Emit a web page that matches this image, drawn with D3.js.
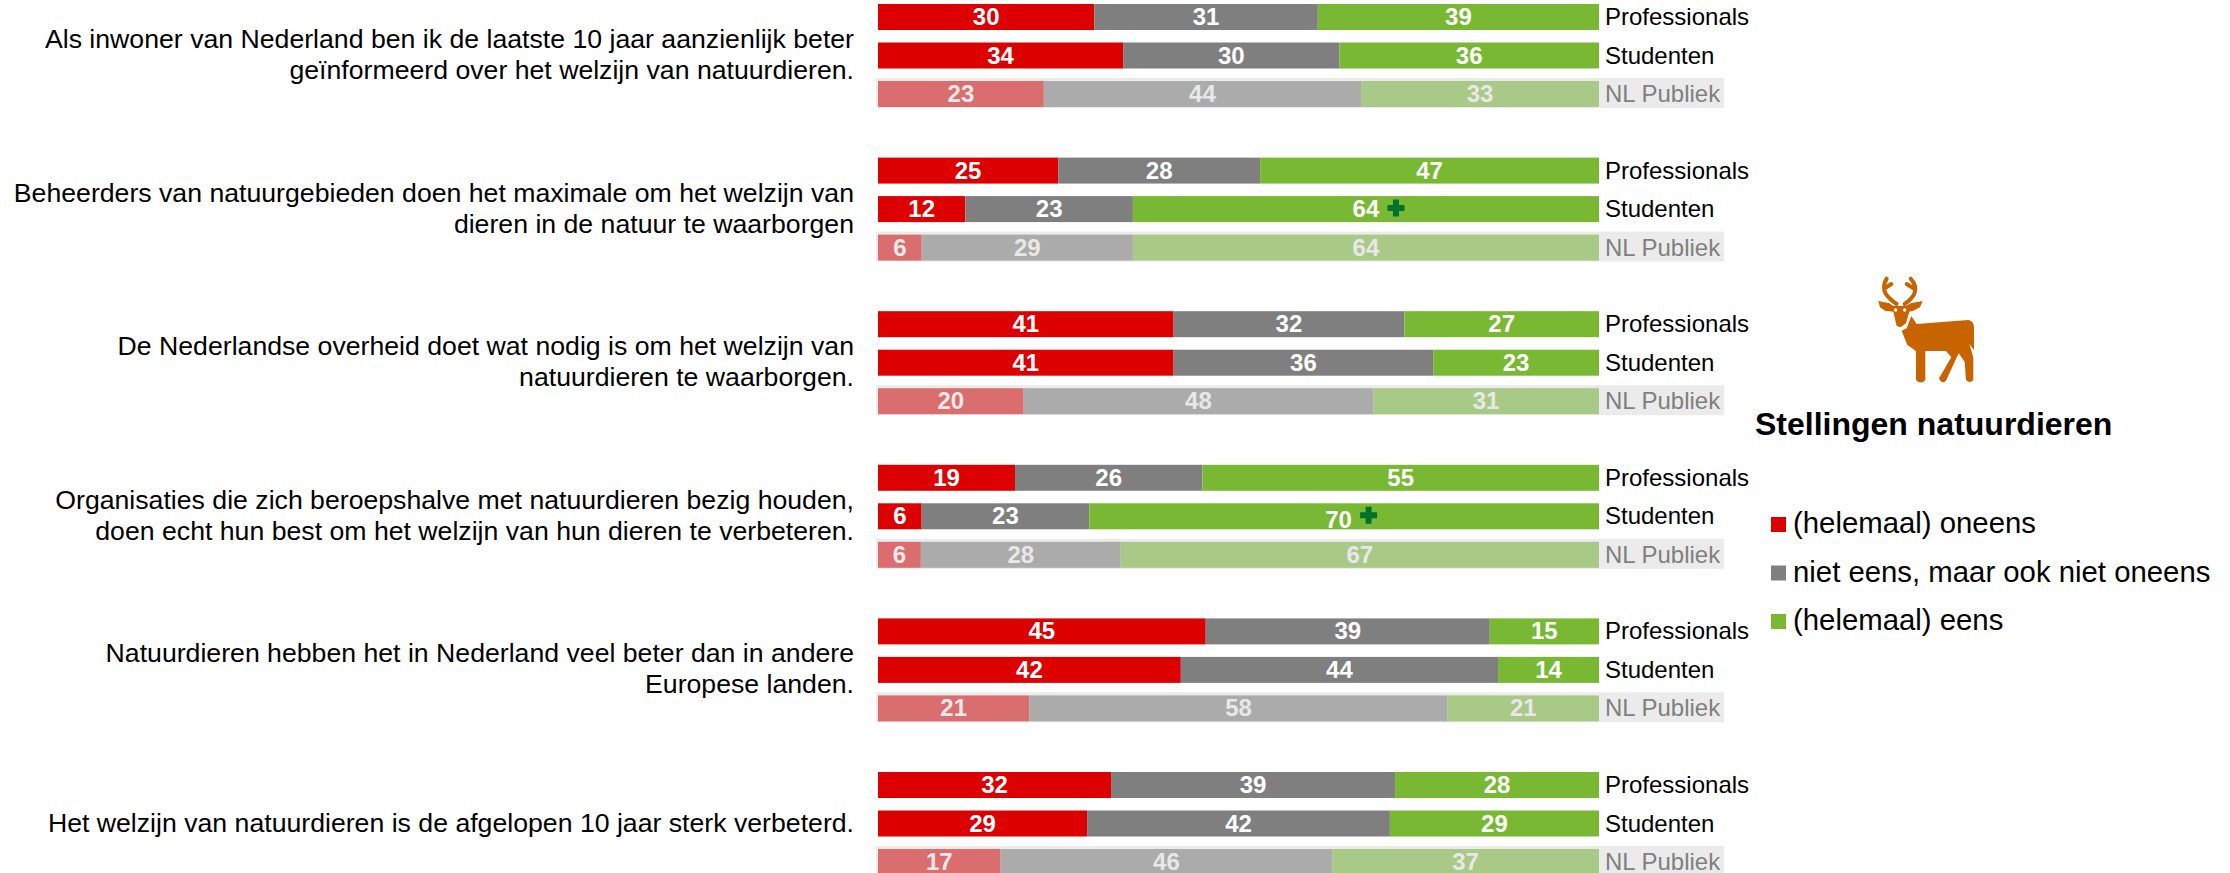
<!DOCTYPE html>
<html>
<head>
<meta charset="utf-8">
<script src="https://d3js.org/d3.v7.min.js"></script>
<style>
html, body { margin: 0; padding: 0; background: #fff; overflow: hidden; }
svg { display: block; }
text { font-family: "Liberation Sans", Arial, sans-serif; }
</style>
</head>
<body>
<script>
var questions = [
  ["Als inwoner van Nederland ben ik de laatste 10 jaar aanzienlijk beter", "geïnformeerd over het welzijn van natuurdieren."],
  ["Beheerders van natuurgebieden doen het maximale om het welzijn van", "dieren in de natuur te waarborgen"],
  ["De Nederlandse overheid doet wat nodig is om het welzijn van", "natuurdieren te waarborgen."],
  ["Organisaties die zich beroepshalve met natuurdieren bezig houden,", "doen echt hun best om het welzijn van hun dieren te verbeteren."],
  ["Natuurdieren hebben het in Nederland veel beter dan in andere", "Europese landen."],
  ["Het welzijn van natuurdieren is de afgelopen 10 jaar sterk verbeterd."]
];
var audiences = ["Professionals", "Studenten", "NL Publiek"];
var answers = ["(helemaal) oneens", "niet eens, maar ook niet oneens", "(helemaal) eens"];

var oneens = [30, 34, 23, 25, 12, 6, 41, 41, 20, 19, 6, 6, 45, 42, 21, 32, 29, 17];
var neutraal = [31, 30, 44, 28, 23, 29, 32, 36, 48, 26, 23, 28, 39, 44, 58, 39, 42, 46];
var eens = [39, 36, 33, 47, 64, 64, 27, 23, 31, 55, 70, 67, 15, 14, 21, 28, 29, 37];
var plusRows = [4, 10];

var colors = ["#dc0000", "#7f7f7f", "#78b832"];
var fadedColors = ["#da6e6e", "#ababab", "#a9c987"];

var rows = oneens.map(function(d, i) {
  return {
    index: i,
    group: Math.floor(i / 3),
    audience: audiences[i % 3],
    a: d, b: neutraal[i], c: eens[i]
  };
});

var svg = d3.select("body").append("svg")
  .attr("width", 2230)
  .attr("height", 873);

var x = d3.scaleLinear().domain([0, 1]).range([878, 1599]);
var yGroup = d3.scaleBand().domain(d3.range(questions.length)).range([4, 4 + 6 * 153.6]);
var yRow = d3.scaleBand().domain(audiences).range([0, 103]).paddingInner(0.325);

var stack = d3.stack().keys(["a", "b", "c"]).offset(d3.stackOffsetExpand);
var series = stack(rows);

function rowY(r) { return yGroup(r.group) + yRow(r.audience); }

// the 70 label sits off centre in the original, pushed aside by its plus
function labelX(k, r) {
  var seg = series[k][r.index];
  var mid = (x(seg[0]) + x(seg[1])) / 2;
  return (k == 2 && r.index == 10) ? mid - 5.5 : mid;
}

// grey strip behind the general public rows
svg.append("g").selectAll("rect")
  .data(rows.filter(function(r) { return r.audience == "NL Publiek"; }))
  .enter().append("rect")
  .attr("x", x(0) - 2)
  .attr("y", function(r) { return rowY(r) - 3; })
  .attr("width", 1724 - x(0) + 2)
  .attr("height", yRow.bandwidth() + 4)
  .attr("fill", "#ebebeb");

var layers = svg.append("g").selectAll("g")
  .data(series)
  .enter().append("g");

layers.selectAll("rect")
  .data(function(s, k) {
    return s.map(function(d) { return { k: k, key: s.key, d: d, r: d.data }; });
  })
  .enter().append("rect")
  .attr("x", function(p) { return x(p.d[0]); })
  .attr("y", function(p) { return rowY(p.r); })
  .attr("width", function(p) { return x(p.d[1]) - x(p.d[0]); })
  .attr("height", yRow.bandwidth())
  .attr("fill", function(p) {
    return p.r.audience == "NL Publiek" ? fadedColors[p.k] : colors[p.k];
  });

layers.selectAll("text")
  .data(function(s, k) {
    return s.map(function(d) { return { k: k, key: s.key, d: d, r: d.data }; });
  })
  .enter().append("text")
  .attr("x", function(p) { return labelX(p.k, p.r); })
  .attr("y", function(p) {
    return rowY(p.r) + ((p.k == 2 && p.r.index == 10) ? 25 : 21);
  })
  .attr("text-anchor", "middle")
  .attr("font-size", 24)
  .attr("font-weight", "bold")
  .attr("fill", function(p) { return p.r.audience == "NL Publiek" ? "#e8e8e8" : "#fff"; })
  .text(function(p) { return p.r[p.key]; });

// row labels
svg.append("g").selectAll("text")
  .data(rows)
  .enter().append("text")
  .attr("x", 1605)
  .attr("y", function(r) { return rowY(r) + 21; })
  .attr("font-size", 24)
  .attr("fill", function(r) { return r.audience == "NL Publiek" ? "#7f7f7f" : "#000"; })
  .text(function(r) { return r.audience; });

// question text, centred on the middle row of each group
var qs = svg.append("g").selectAll("text")
  .data(questions)
  .enter().append("text")
  .attr("text-anchor", "end")
  .attr("font-size", 26.67);

qs.selectAll("tspan")
  .data(function(lines, g) {
    return lines.map(function(l, i) {
      return { text: l, y: yGroup(g) + yRow("Studenten") + 13 + 8 + (i - (lines.length - 1) / 2) * 31 };
    });
  })
  .enter().append("tspan")
  .attr("x", 854)
  .attr("y", function(d) { return d.y; })
  .text(function(d) { return d.text; });

// significance plus
svg.append("g").selectAll("path")
  .data(plusRows.map(function(i) { return rows[i]; }))
  .enter().append("path")
  .attr("transform", function(r) {
    return "translate(" + (labelX(2, r) + 30) + "," + (rowY(r) + 12) + ")";
  })
  .attr("d", "M-3,-8.5H3V-3H8.5V3H3V8.5H-3V3H-8.5V-3H-3Z")
  .attr("fill", "#00722e");

// deer icon
var deer = svg.append("g")
  .attr("transform", "translate(1870,270) scale(0.3333)");

deer.append("path")
  .attr("fill", "none")
  .attr("stroke", "#c86400")
  .attr("stroke-width", 12)
  .attr("stroke-linecap", "round")
  .attr("d", "M80,102 C55,85 28,62 50,26 M43,56 L64,42 M104,102 C128,85 152,60 122,26 M132,56 L110,42");

deer.append("path")
  .attr("fill", "#c86400")
  .attr("d", "M25,93 L58,100 L70,108 L108,108 L122,100 L158,93 L150,112 L130,122 L118,125 L108,160 L92,172 L80,168 L70,125 L45,122 L30,112 Z");

deer.selectAll("circle")
  .data([77, 104])
  .enter().append("circle")
  .attr("cx", function(d) { return d; })
  .attr("cy", 120)
  .attr("r", 5)
  .attr("fill", "#fff");

deer.append("path")
  .attr("fill", "#c86400")
  .attr("d", "M124,138 L140,162 L295,150 Q310,152 312,170 L312,240 L298,222 L310,262 L310,330 Q300,342 288,330 L284,275 L266,250 L228,332 Q215,345 207,325 L244,262 L228,243 L166,243 L166,330 Q152,345 138,330 L138,243 L112,225 L95,182 L110,175 Z");

svg.append("text")
  .attr("x", 1755)
  .attr("y", 435)
  .attr("font-size", 32)
  .attr("font-weight", "bold")
  .text("Stellingen natuurdieren");

var legendY = d3.scalePoint().domain(answers).range([517, 614]);
var legend = svg.append("g").selectAll("g")
  .data(answers)
  .enter().append("g")
  .attr("transform", function(d) { return "translate(1771," + legendY(d) + ")"; });

legend.append("rect")
  .attr("width", 15)
  .attr("height", 15)
  .attr("fill", function(d, i) { return colors[i]; });

legend.append("text")
  .attr("x", 22)
  .attr("y", 16)
  .attr("font-size", 29.33)
  .text(function(d) { return d; });
</script>
</body>
</html>
